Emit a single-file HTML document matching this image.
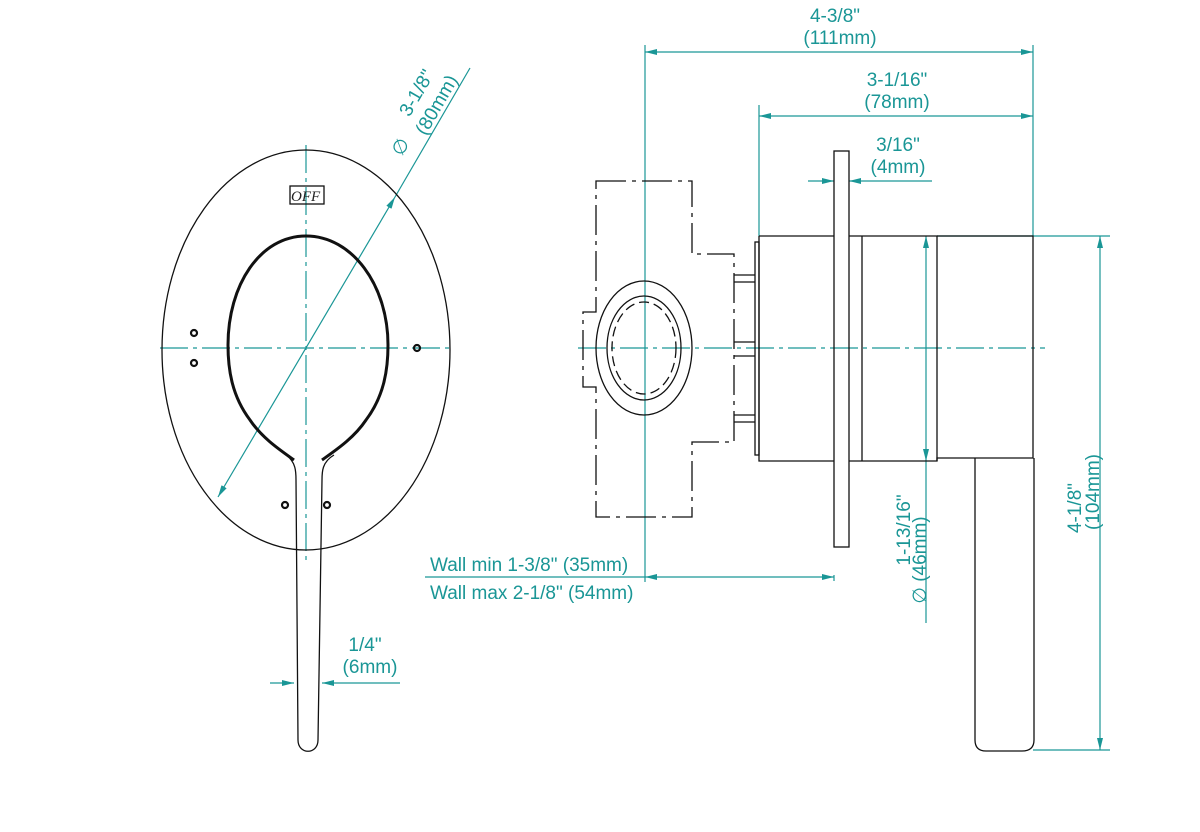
<!DOCTYPE html>
<html><head><style>
html,body{margin:0;padding:0;background:#fff;}
svg{display:block;}
text{font-family:"Liberation Sans",sans-serif;fill:#1a9696;font-size:19px;}
</style></head><body>
<svg width="1200" height="832" viewBox="0 0 1200 832" xmlns="http://www.w3.org/2000/svg">
<defs>
<marker id="a" viewBox="0 0 12 6" refX="12" refY="3" markerWidth="12" markerHeight="6" orient="auto-start-reverse" markerUnits="userSpaceOnUse"><path d="M0,0L12,3L0,6z" fill="#1a9696"/></marker>
</defs>
<g fill="none" stroke="#1a9696" stroke-width="1.2">
<path d="M160,348H450M578,348H1045" stroke-dasharray="28,5,4,5"/>
<path d="M306,145V560" stroke-dasharray="28,5,4,5"/>
<path d="M645,45V582M1033,45V236M759,105V236M937,236H1110M1033,750H1110M834,575V581"/>
<path d="M645,52H1033" marker-start="url(#a)" marker-end="url(#a)"/>
<path d="M759,116H1033" marker-start="url(#a)" marker-end="url(#a)"/>
<path d="M808,181H834" marker-end="url(#a)"/>
<path d="M932,181H849" marker-end="url(#a)"/>
<path d="M1100,236V750" marker-start="url(#a)" marker-end="url(#a)"/>
<path d="M926,236V461" marker-start="url(#a)" marker-end="url(#a)"/>
<path d="M926,461V623"/>
<path d="M645,577H834" marker-start="url(#a)" marker-end="url(#a)"/>
<path d="M425,577H645"/>
<path d="M270,683H294" marker-end="url(#a)"/>
<path d="M400,683H322" marker-end="url(#a)"/>
<path d="M218,497L395,197" marker-start="url(#a)" marker-end="url(#a)"/>
<path d="M395,197L470,68"/>
</g>
<g fill="none" stroke="#111" stroke-width="1.3">
<ellipse cx="306" cy="350" rx="144" ry="200"/>
<path d="M294,460 C280,450 262,438 250,420 C232,396 228,370 228,345 C228,285 260,236 306,236 C352,236 388,285 388,345 C388,370 384,396 366,420 C354,438 336,450 322,460" stroke-width="3"/>
<path d="M286,455 C296,462 296,472 296,480 L298,740 C298,755 318,755 318,740 L322,480 C322,472 322,462 334,455"/>
<rect x="290" y="186" width="34" height="18"/>
</g>
<text x="291" y="201" style="font-family:'Liberation Serif',serif;font-style:italic;fill:#222;font-size:15px">OFF</text>
<g fill="none" stroke="#111" stroke-width="2.2">
<circle cx="194" cy="333" r="3"/><circle cx="194" cy="363" r="3"/><circle cx="417" cy="348" r="3"/>
<circle cx="285" cy="505" r="3"/><circle cx="327" cy="505" r="3"/>
</g>
<g fill="none" stroke="#111" stroke-width="1.3">
<path d="M596,181H692V254H734V442H692V517H596V387H583V312H596Z" stroke-dasharray="30,6,4,6"/>
<ellipse cx="644" cy="348" rx="48" ry="67"/>
<ellipse cx="644" cy="348" rx="37" ry="52"/>
<ellipse cx="644" cy="348" rx="32" ry="46" stroke-dasharray="10,5"/>
<path d="M734,275H755M734,282H755M734,342H755M734,356H755M734,415H755M734,422H755"/>
<rect x="755" y="242" width="4" height="213"/>
<path d="M759,236H834M849,236H937V461H849M834,461H759V236"/>
<path d="M862,236V461"/>
<rect x="834" y="151" width="15" height="396"/>
<path d="M937,236H1033V458H975M937,461V458H975V740Q975,751 986,751H1022Q1034,751 1034,740V458"/>
</g>
<text x="835" y="22" text-anchor="middle">4-3/8"</text>
<text x="840" y="44" text-anchor="middle">(111mm)</text>
<text x="897" y="86" text-anchor="middle">3-1/16"</text>
<text x="897" y="108" text-anchor="middle">(78mm)</text>
<text x="898" y="151" text-anchor="middle">3/16"</text>
<text x="898" y="173" text-anchor="middle">(4mm)</text>
<text x="430" y="571">Wall min 1-3/8" (35mm)</text>
<text x="430" y="599">Wall max 2-1/8" (54mm)</text>
<text x="365" y="651" text-anchor="middle">1/4"</text>
<text x="370" y="673" text-anchor="middle">(6mm)</text>
<text transform="translate(910,530) rotate(-90)" text-anchor="middle">1-13/16"</text>
<text transform="translate(926,560) rotate(-90)" text-anchor="middle">∅ (46mm)</text>
<text transform="translate(1081,508) rotate(-90)" text-anchor="middle">4-1/8"</text>
<text transform="translate(1099,492) rotate(-90)" text-anchor="middle">(104mm)</text>
<text transform="translate(422,96) rotate(-60)" text-anchor="middle">3-1/8"</text>
<text transform="translate(442,108) rotate(-60)" text-anchor="middle">(80mm)</text>
<text transform="translate(406,150) rotate(-60)" text-anchor="middle">∅</text>
</svg>
</body></html>
